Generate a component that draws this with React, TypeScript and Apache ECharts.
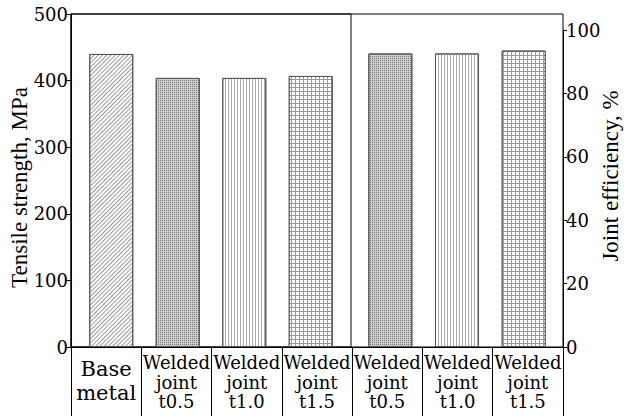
import React, { useEffect, useRef } from "react";
import * as echarts from "echarts";

const tableLabels = [
  "Base metal",
  "Welded joint t0.5",
  "Welded joint t1.0",
  "Welded joint t1.5",
  "Welded joint t0.5",
  "Welded joint t1.0",
  "Welded joint t1.5",
];
const strengthCategories = ["Base metal", "Welded joint t0.5", "Welded joint t1.0", "Welded joint t1.5"];
const strengthValues = [440, 404, 404, 407];
const efficiencyCategories = ["Welded joint t0.5", "Welded joint t1.0", "Welded joint t1.5"];
const efficiencyValues = [92.6, 92.6, 93.5];
const strengthTicks = { min: 0, max: 500, interval: 100 };
const efficiencyTicks = { min: 0, max: 100, interval: 20 };

const TITLE_FONT = "Liberation Serif";
const LABEL_FONT = "DejaVu Serif";

const patterns: Record<string, any> = {
  diag: {
    symbol: "rect", symbolSize: 1, dashArrayX: [1, 0], dashArrayY: [1, 2],
    rotation: -Math.PI / 4, color: "#999", backgroundColor: "#fff",
  },
  dots: {
    symbol: "rect", symbolSize: 1, dashArrayX: [1, 1], dashArrayY: [1, 1],
    color: "#777", backgroundColor: "#cfcfcf",
  },
  vert: {
    symbol: "rect", symbolSize: 1, dashArrayX: [1, 2], dashArrayY: [1, 0],
    color: "#aaa", backgroundColor: "#fff",
  },
  grid: {
    symbol: "rect", symbolSize: 1, dashArrayX: [3, 1], dashArrayY: [3, 1],
    color: "#fff", backgroundColor: "#999",
  },
};
const patternFor = (name: string) =>
  name.startsWith("Base") ? patterns.diag : name.endsWith("0.5") ? patterns.dots : name.endsWith("1.0") ? patterns.vert : patterns.grid;
const bgFor = (name: string) => patternFor(name).backgroundColor;

const tickLabel = {
  margin: 3,
  fontFamily: LABEL_FONT,
  fontSize: 18,
  color: "#000",
  formatter: (v: number) => `{t|${v}}`,
  rich: { t: { fontFamily: LABEL_FONT, fontSize: 18, color: "#000" } },
};

export default function App() {
  const ref = useRef<HTMLDivElement>(null);
  useEffect(() => {
    if (!ref.current) return;
    const chart = echarts.init(ref.current, undefined, { renderer: "svg" });
    const boxTop = 14;
    const boxH = 333;
    const boxBottom = 416 - boxTop - boxH;
    chart.setOption({
      animation: false,
      grid: [
        { left: 71, width: 492, top: boxTop, height: boxH, show: true, borderColor: "#000", borderWidth: 1, backgroundColor: "transparent" },
        { left: 78, width: 266, top: boxTop, height: boxH },
        { left: 357, width: 200, top: 30, bottom: boxBottom },
        { left: 71, width: 280, top: boxTop, height: boxH, show: true, borderColor: "#000", borderWidth: 1, backgroundColor: "transparent" },
        { left: 71, width: 492, top: 28, height: 319 },
        { left: 71, width: 492, top: 14, height: 324 },
      ],
      xAxis: [
        {
          gridIndex: 0, type: "category",
          data: tableLabels.map((c, i) => (i === 0 ? { value: c, textStyle: { padding: [4, 0, 0, 0] } } : c)),
          axisLine: { show: true, lineStyle: { color: "#000", width: 1 } },
          axisTick: { show: true, inside: false, length: 72, lineStyle: { color: "#000", width: 1 } },
          axisLabel: {
            interval: 0, margin: 6, hideOverlap: false, fontFamily: LABEL_FONT, fontSize: 18, color: "#000",
            formatter: (v: string) => {
              const parts = v.split(" ");
              const key = parts[0] === "Base" ? "b" : "w";
              return parts.map((p) => `{${key}|${p}}`).join("\n");
            },
            rich: {
              b: { fontFamily: LABEL_FONT, fontSize: 21, lineHeight: 24, color: "#000" },
              w: { fontFamily: LABEL_FONT, fontSize: 18, lineHeight: 19.5, color: "#000" },
            },
          },
          splitLine: { show: false },
        },
        { gridIndex: 1, type: "category", data: strengthCategories, show: false },
        { gridIndex: 2, type: "category", data: efficiencyCategories, show: false },
        { gridIndex: 3, type: "category", data: ["a"], show: false },
        { gridIndex: 4, type: "category", data: ["a"], show: false },
        { gridIndex: 5, type: "category", data: ["a"], show: false },
      ],
      yAxis: [
        {
          gridIndex: 0, type: "value", position: "left", ...strengthTicks,
          axisLine: { show: true, lineStyle: { color: "#000" } },
          axisTick: { show: true, inside: false, length: 5, lineStyle: { color: "#000" } },
          axisLabel: tickLabel,
          splitLine: { show: false },
        },
        { gridIndex: 1, type: "value", ...strengthTicks, show: false, splitLine: { show: false } },
        {
          gridIndex: 2, type: "value", position: "right", offset: 6, ...efficiencyTicks,
          axisLine: { show: true, lineStyle: { color: "#000" } },
          axisTick: { show: true, inside: false, length: 4, lineStyle: { color: "#000" } },
          axisLabel: tickLabel,
          splitLine: { show: false },
        },
        { gridIndex: 3, type: "value", show: false, splitLine: { show: false } },
        {
          gridIndex: 4, type: "value", position: "left", min: 0, max: 1,
          name: "Tensile strength, MPa", nameLocation: "middle", nameGap: 40, nameRotate: 90,
          nameTextStyle: { fontFamily: TITLE_FONT, fontSize: 23, color: "#000" },
          axisLine: { show: false }, axisTick: { show: false }, axisLabel: { show: false },
          splitLine: { show: false },
        },
        {
          gridIndex: 5, type: "value", position: "right", min: 0, max: 1,
          name: "Joint efficiency, %", nameLocation: "middle", nameGap: 38, nameRotate: 90,
          nameTextStyle: { fontFamily: TITLE_FONT, fontSize: 23, color: "#000" },
          axisLine: { show: false }, axisTick: { show: false }, axisLabel: { show: false },
          splitLine: { show: false },
        },
      ],
      series: [
        {
          type: "bar", xAxisIndex: 1, yAxisIndex: 1, barWidth: 44,
          data: strengthValues.map((v, i) => ({
            value: v,
            itemStyle: { color: bgFor(strengthCategories[i]), borderColor: "#555", borderWidth: 1, decal: patternFor(strengthCategories[i]) },
          })),
        },
        {
          type: "bar", xAxisIndex: 2, yAxisIndex: 2, barWidth: 44,
          data: efficiencyValues.map((v, i) => ({
            value: v,
            itemStyle: { color: bgFor(efficiencyCategories[i]), borderColor: "#555", borderWidth: 1, decal: patternFor(efficiencyCategories[i]) },
          })),
        },
      ],
    });
    return () => chart.dispose();
  }, []);
  return <div ref={ref} style={{ position: "absolute", left: 0, top: 0, width: 630, height: 416 }} />;
}
